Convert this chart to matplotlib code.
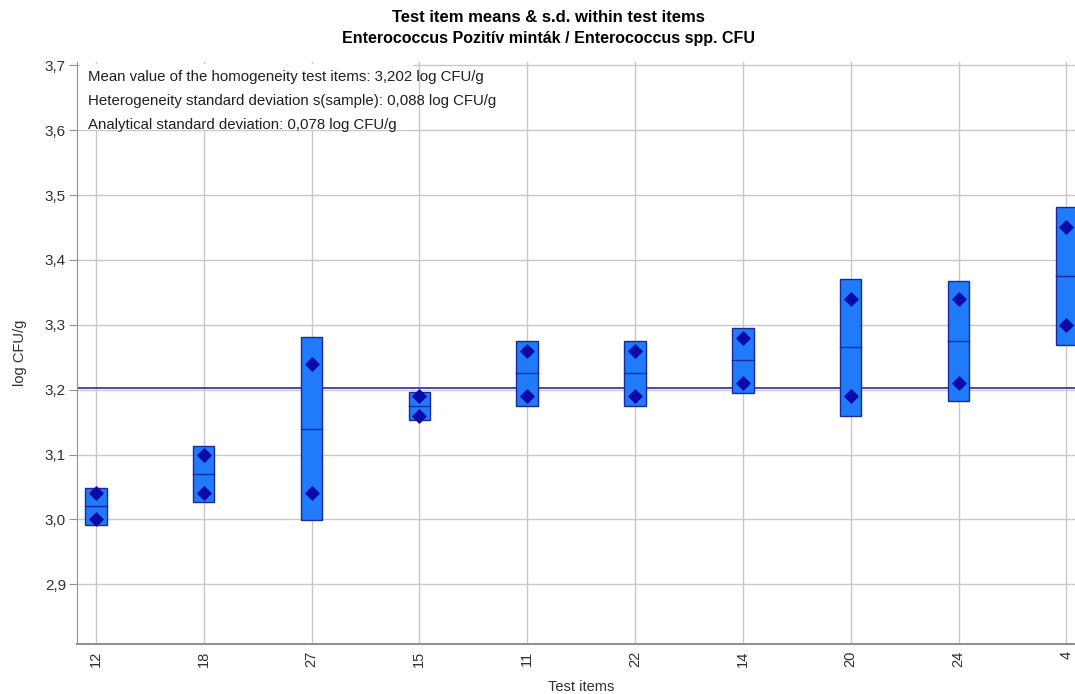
import numpy as np
import matplotlib
matplotlib.use('Agg')
import matplotlib.pyplot as plt
from matplotlib.patches import Rectangle

plt.rcParams['font.family'] = ['Liberation Sans', 'DejaVu Sans']

# ===== DATA =====
items = ['12', '18', '27', '15', '11', '22', '14', '20', '24', '4']
rep_1 = [3.04, 3.10, 3.24, 3.19, 3.26, 3.26, 3.28, 3.34, 3.34, 3.45]
rep_2 = [3.00, 3.04, 3.04, 3.16, 3.19, 3.19, 3.21, 3.19, 3.21, 3.30]
grand_mean = 3.202
y_ticks = [2.9, 3.0, 3.1, 3.2, 3.3, 3.4, 3.5, 3.6, 3.7]
info_lines = [
    'Mean value of the homogeneity test items: 3,202 log CFU/g',
    'Heterogeneity standard deviation s(sample): 0,088 log CFU/g',
    'Analytical standard deviation: 0,078 log CFU/g',
]
# ===== DATA =====

W, H = 1075, 694
reps = np.array([rep_1, rep_2])
means = reps.mean(axis=0)
sds = reps.std(axis=0, ddof=1)

fig = plt.figure(figsize=(W / 100, H / 100), dpi=100)
ax = fig.add_axes([77 / W, 1 - 644 / H, 1 - 77 / W, (644 - 62) / H])

box_w = 0.2
x = np.arange(len(items))
for xi, m, s in zip(x, means, sds):
    ax.add_patch(Rectangle((xi - box_w / 2, m - s), box_w, 2 * s,
                           facecolor='#1f7bfa', edgecolor='#1a2a9a', lw=1.0, zorder=3))
    ax.plot([xi - box_w / 2, xi + box_w / 2], [m, m], color='#1a2a9a', lw=1.0, zorder=4)

ax.scatter(np.r_[x, x], np.r_[rep_1, rep_2], marker='D', s=45, color='#0a0aa8', zorder=5)
ax.axhline(grand_mean, color='#2a2a9a', lw=1.2, zorder=2)

ax.set_xlim(-0.175, 9.08)
ax.set_ylim(2.808, 3.705)
ax.set_xticks(x)
ax.set_xticklabels(items, rotation=90, fontsize=10.5)
ax.set_yticks(y_ticks)
ax.set_yticklabels([f'{v:.1f}'.replace('.', ',') for v in y_ticks], fontsize=11)
ax.grid(True, color='#c8c8cc', lw=1.0, zorder=0)
ax.set_axisbelow(True)
for side in ['top', 'right']:
    ax.spines[side].set_visible(False)
ax.spines['left'].set_color('#909090')
ax.spines['bottom'].set_color('#909090')
ax.spines['bottom'].set_linewidth(1.5)
ax.tick_params(axis='y', colors='#909090', labelcolor='#303030', length=6, pad=2)
ax.tick_params(axis='x', length=0, pad=5, labelcolor='#303030')

# white panel behind the info text, hiding the grid there
ax.add_patch(Rectangle((3 / 998, (644 - 130) / 582), (413 - 80) / 998, (130 - 64) / 582,
                       transform=ax.transAxes, facecolor='white', edgecolor='none', zorder=6))
for i, line in enumerate(info_lines):
    fig.text(88 / W, 1 - (77 + 24 * i) / H, line, va='center', ha='left',
             fontsize=10.8, color='#202020', zorder=7)

fig.text(581 / W, 1 - 687 / H, 'Test items', ha='center', va='center', fontsize=10.5, color='#303030')
fig.text(20 / W, 1 - 353 / H, 'log CFU/g', ha='center', va='center', rotation=90,
         fontsize=10.5, color='#303030')

fig.text(548 / W, 1 - 18 / H, 'Test item means & s.d. within test items',
         ha='center', va='center', fontsize=12, fontweight='bold')
fig.text(548 / W, 1 - 38 / H, 'Enterococcus Pozitív minták / Enterococcus spp. CFU',
         ha='center', va='center', fontsize=11.5, fontweight='bold')

fig.savefig('out.png', dpi=100)
